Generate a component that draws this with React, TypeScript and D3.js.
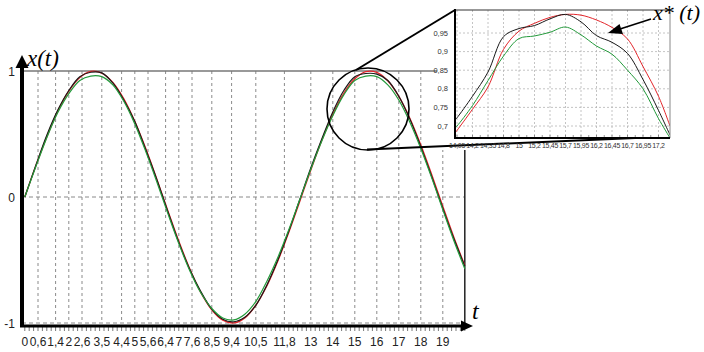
import React from 'react';
import * as d3 from 'd3';

// ---------- main chart data ----------
const tValues = [0, 0.5, 1, 1.5, 2, 2.5, 3, 3.5, 4, 4.5, 5, 5.5, 6, 6.5, 7, 7.5, 8, 8.5, 9, 9.5, 10,
  10.5, 11, 11.5, 12, 12.5, 13, 13.5, 14, 14.5, 15, 15.5, 16, 16.5, 17, 17.5, 18, 18.5, 19, 19.5, 20];
const redSeries = [0, 0.247, 0.479, 0.682, 0.841, 0.949, 0.997, 0.984, 0.909, 0.778, 0.598, 0.382, 0.141,
  -0.108, -0.351, -0.572, -0.757, -0.895, -0.978, -0.999, -0.959, -0.859, -0.706, -0.508, -0.279, -0.033,
  0.215, 0.45, 0.657, 0.823, 0.938, 0.995, 0.989, 0.922, 0.798, 0.625, 0.412, 0.174, -0.075, -0.319, -0.544];
const blackSeries = [0, 0.25, 0.49, 0.69, 0.845, 0.955, 0.99, 0.985, 0.905, 0.77, 0.6, 0.375, 0.14,
  -0.115, -0.36, -0.575, -0.75, -0.89, -0.97, -0.99, -0.955, -0.86, -0.7, -0.5, -0.27, -0.02,
  0.23, 0.46, 0.675, 0.845, 0.955, 0.98, 0.975, 0.925, 0.8, 0.62, 0.4, 0.16, -0.09, -0.33, -0.55];
const greenSeries = [0, 0.24, 0.47, 0.67, 0.82, 0.925, 0.96, 0.955, 0.89, 0.76, 0.58, 0.36, 0.12,
  -0.13, -0.37, -0.585, -0.76, -0.885, -0.96, -0.975, -0.93, -0.83, -0.67, -0.48, -0.26, -0.02,
  0.22, 0.445, 0.645, 0.81, 0.925, 0.96, 0.955, 0.89, 0.77, 0.595, 0.385, 0.15, -0.1, -0.345, -0.57];
const xTickValues = [0, 0.6, 1.4, 2, 2.6, 3.5, 4.4, 5, 5.6, 6.4, 7, 7.6, 8.5, 9.4, 10.5, 11.8, 13, 14, 15, 16, 17, 18, 19];
const yTickValues = [-1, 0, 1];

// ---------- inset data ----------
const insetLabels = ['14,05', '14,2', '14,35', '14,8', '15', '15,2', '15,45', '15,7', '15,95', '16,2', '16,45', '16,7', '16,95', '17,2'];
const insetPos = [-0.13, 0, 1, 2, 3, 4, 5, 6, 7, 8, 9, 10, 11, 12, 13, 13.74];
const insetRed = [0.681, 0.688, 0.745, 0.805, 0.906, 0.955, 0.976, 0.992, 1.0, 0.998, 0.985, 0.965, 0.934, 0.86, 0.78, 0.70];
const insetBlack = [0.716, 0.722, 0.78, 0.845, 0.94, 0.962, 0.97, 0.988, 1.0, 0.98, 0.943, 0.925, 0.895, 0.825, 0.742, 0.676];
const insetGreen = [0.695, 0.70, 0.755, 0.822, 0.888, 0.935, 0.942, 0.952, 0.966, 0.945, 0.915, 0.893, 0.85, 0.80, 0.72, 0.668];
const insetYTicks = [0.7, 0.75, 0.8, 0.85, 0.9, 0.95];

const RED = '#e3262b';
const BLACK = '#1a1a1a';
const GREEN = '#239a3b';
const GRID = '#8a8a8a';
const SANS = '"Liberation Sans", Arial, sans-serif';
const SERIF = '"Liberation Serif", "Times New Roman", serif';

const fmt = (v: number) => String(v).replace('.', ',');

export default function App() {
  const W = 704, H = 352;
  const x = d3.scaleLinear().domain([0, 20]).range([24.8, 464.8]);
  const y = d3.scaleLinear().domain([-1, 1]).range([323, 71]);

  const mainLine = (vals: number[]) =>
    d3.line<number>().x((_, i) => x(tValues[i])).y((d) => y(d)).curve(d3.curveCatmullRom)(vals) || '';

  const minorTicks = d3.range(0, 20.0001, 0.2);

  // inset
  const ix = d3.scaleLinear().domain([0, 13]).range([457, 658.5]);
  const iy = d3.scaleLinear().domain([0.7, 0.95]).range([126, 33]);
  const iL = 455, iR = 670, iT = 10, iB = 138;
  const insetLine = (vals: number[]) =>
    d3.line<number>().x((_, i) => ix(insetPos[i])).y((d) => iy(d)).curve(d3.curveCatmullRom)(vals) || '';

  const axisX0 = 22;
  const axisY0 = 326;

  return (
    <svg width={W} height={H} style={{ position: 'absolute', left: 0, top: 0, background: '#fff' }}>
      <defs>
        <clipPath id="insetClip">
          <rect x={iL} y={iT} width={iR - iL} height={iB - iT} />
        </clipPath>
      </defs>
      <rect x={0} y={0} width={W} height={H} fill="#fff" />

      {/* main grid */}
      {xTickValues.filter((v) => v > 0).map((v) => (
        <line key={'gx' + v} x1={x(v)} x2={x(v)} y1={y(1)} y2={y(-1)} stroke={GRID} strokeWidth={1} strokeDasharray="3,3" />
      ))}
      {yTickValues.filter((v) => v < 1).map((v) => (
        <line key={'gy' + v} x1={axisX0} x2={x(20)} y1={y(v)} y2={y(v)} stroke={GRID} strokeWidth={1} strokeDasharray="4,3" />
      ))}
      <line x1={axisX0} x2={x(20)} y1={y(1)} y2={y(1)} stroke="#777" strokeWidth={1.5} />
      <line x1={x(20)} x2={x(20)} y1={y(1)} y2={axisY0} stroke="#222" strokeWidth={1.5} />

      {/* curves */}
      <path d={mainLine(redSeries)} fill="none" stroke={RED} strokeWidth={1.4} />
      <path d={mainLine(blackSeries)} fill="none" stroke={BLACK} strokeWidth={1.2} />
      <path d={mainLine(greenSeries)} fill="none" stroke={GREEN} strokeWidth={1.2} />

      {/* x axis */}
      {minorTicks.map((v, i) => (
        <line key={'mt' + i} x1={x(v)} x2={x(v)} y1={axisY0} y2={axisY0 + 5} stroke="#555" strokeWidth={0.8} />
      ))}
      <line x1={axisX0 - 2} x2={462} y1={axisY0} y2={axisY0} stroke="#000" strokeWidth={3} />
      <path d={`M461,${axisY0 - 5.5}L473,${axisY0}L461,${axisY0 + 5.5}Z`} fill="#000" />
      {xTickValues.map((v) => (
        <text key={'xl' + v} x={x(v)} y={346} fontSize={12} fontFamily={SANS} textAnchor="middle" fill="#222">
          {fmt(v)}
        </text>
      ))}
      <text x={472} y={319} fontSize={24} fontStyle="italic" fontFamily={SERIF} fill="#000">t</text>

      {/* y axis */}
      <line x1={axisX0} x2={axisX0} y1={axisY0 + 1} y2={66} stroke="#000" strokeWidth={4} />
      <path d={`M${axisX0 - 6.5},68L${axisX0},55L${axisX0 + 6.5},68Z`} fill="#000" />
      {yTickValues.map((v) => (
        <text key={'yl' + v} x={15} y={y(v) + 4.5} fontSize={12} fontFamily={SANS} textAnchor="end" fill="#222">
          {fmt(v)}
        </text>
      ))}
      <text x={27} y={66} fontSize={23} fontStyle="italic" fontFamily={SERIF} fill="#000">x(t)</text>

      {/* white backdrop for inset */}
      <rect x={437} y={0} width={W - 437} height={150} fill="#fff" />

      {/* magnifier circle and connectors */}
      <circle cx={368} cy={109} r={41} fill="none" stroke="#000" strokeWidth={1.6} />
      <line x1={356} y1={70} x2={iL} y2={iT} stroke="#000" strokeWidth={2} />
      <line x1={367} y1={149.5} x2={iR} y2={136.5} stroke="#000" strokeWidth={2} />

      {/* inset */}
      <rect x={iL} y={iT} width={iR - iL} height={iB - iT} fill="#fff" />
      {insetLabels.map((_, i) => (
        <line key={'igx' + i} x1={ix(i)} x2={ix(i)} y1={iT} y2={iB} stroke="#b5b5b5" strokeWidth={0.8} strokeDasharray="2,2" />
      ))}
      {insetYTicks.map((v) => (
        <line key={'igy' + v} x1={iL} x2={iR} y1={iy(v)} y2={iy(v)} stroke="#b5b5b5" strokeWidth={0.8} strokeDasharray="2,2" />
      ))}
      <g clipPath="url(#insetClip)">
        <path d={insetLine(insetRed)} fill="none" stroke={RED} strokeWidth={1} />
        <path d={insetLine(insetBlack)} fill="none" stroke={BLACK} strokeWidth={1} />
        <path d={insetLine(insetGreen)} fill="none" stroke={GREEN} strokeWidth={1} />
      </g>
      <line x1={iL} x2={iR} y1={iT} y2={iT} stroke="#333" strokeWidth={1.2} />
      <line x1={iR} x2={iR} y1={iT} y2={iB} stroke="#888" strokeWidth={1} />
      {d3.range(0, 13.01, 0.5).map((v, i) => (
        <line key={'imt' + i} x1={ix(v)} x2={ix(v)} y1={iB - 3} y2={iB} stroke="#555" strokeWidth={0.6} />
      ))}
      <line x1={iL} x2={iR} y1={iB} y2={iB} stroke="#000" strokeWidth={2} />
      <line x1={iL} x2={iL} y1={iT - 1} y2={iB + 1} stroke="#000" strokeWidth={2} />
      {insetYTicks.map((v) => (
        <text key={'iyl' + v} x={448} y={iy(v) + 2.5} fontSize={7.5} fontFamily={SANS} textAnchor="end" fill="#333">
          {fmt(v)}
        </text>
      ))}
      {insetLabels.map((s, i) => (
        <text key={'ixl' + i} x={ix(i)} y={148} fontSize={7} fontFamily={SANS} textAnchor="middle" fill="#333" letterSpacing={-0.3}>
          {s}
        </text>
      ))}

      {/* x*(t) annotation */}
      <text x={653} y={20} fontSize={22} fontStyle="italic" fontFamily={SERIF} fill="#000">x* (t)</text>
      <line x1={651} y1={19} x2={620} y2={29} stroke="#000" strokeWidth={1.6} />
      <path d="M608,33L619.5,24L623,34Z" fill="#000" />
    </svg>
  );
}
